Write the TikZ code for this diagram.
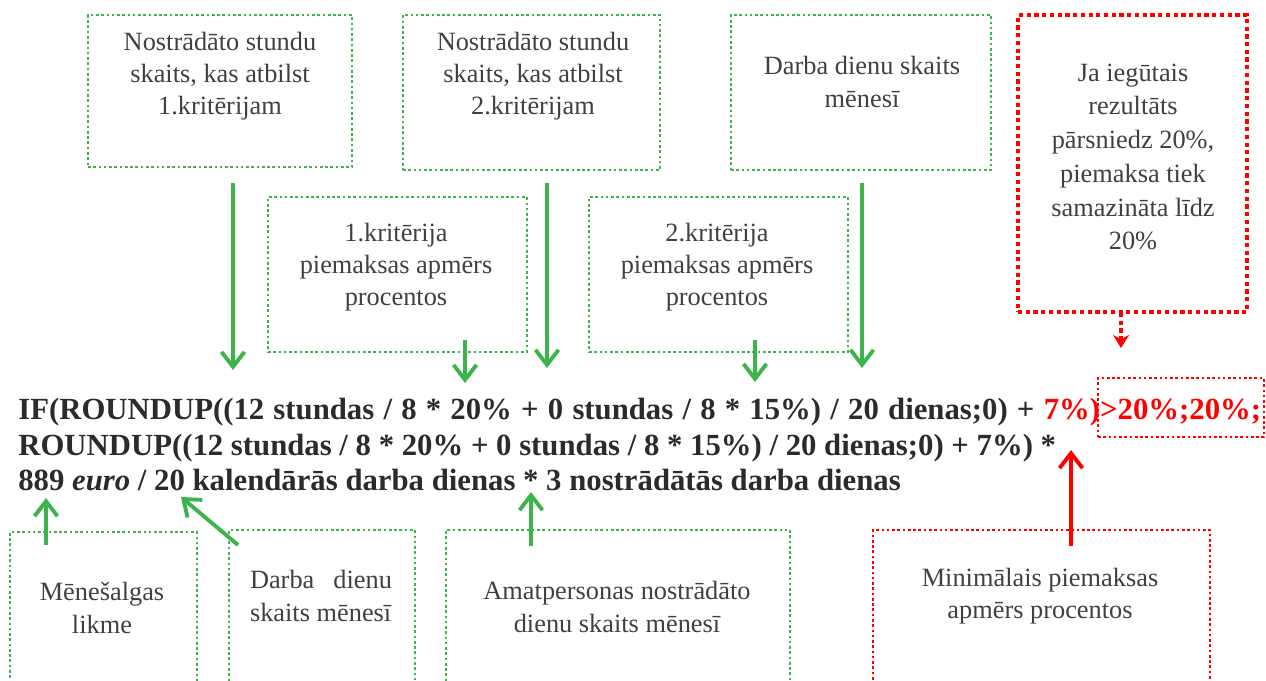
\documentclass[tikz,border=0pt]{standalone}
\usepackage{fontspec}
\setmainfont{Liberation Serif}
\usetikzlibrary{arrows.meta,fit,positioning}
\definecolor{grn}{HTML}{3BB44A}
\definecolor{txtgray}{HTML}{404040}
\definecolor{frmgray}{HTML}{2B2B2B}
\tikzset{
	gbox/.style={draw=grn, line width=1.5pt, dash pattern=on 1.5pt off 1.5pt, inner sep=0pt},
	rbox/.style={draw=red, line width=1.5pt, dash pattern=on 1.5pt off 1.5pt, inner sep=0pt},
	rboxthick/.style={draw=red, line width=2.4pt, dash pattern=on 2.4pt off 2pt, inner sep=0pt},
	btext/.style={text=txtgray, font=\fontsize{15}{18.4}\selectfont, align=center, inner sep=0pt},
	frm/.style={text=frmgray, font=\fontsize{17.5}{20}\selectfont\bfseries, anchor=base west, inner sep=0pt},
	garrow/.style={draw=grn, line width=2.2pt, -{Straight Barb[length=3mm,width=4.6mm]}},
	rarrow/.style={draw=red, line width=2.2pt, -{Straight Barb[length=3mm,width=4.6mm]}},
}

\begin{document}
\begin{tikzpicture}[x=0.02cm, y=-0.02cm]
			\clip (0,0) rectangle (1266,680);
			
			% upper boxes
			\node[gbox, fit={(88,15) (352,167)}] (hours1) {};
			\node[gbox, fit={(403,15) (660,170)}] (hours2) {};
			\node[gbox, fit={(731,15) (991,170)}] (days) {};
			\node[rboxthick, fit={(1018,15) (1247,312)}] (limit) {};
			\node[gbox, fit={(268,197) (527,352)}] (pct1) {};
			\node[gbox, fit={(589,197) (848,352)}] (pct2) {};
			
			\node[btext] (hours1txt) at (220,76) {Nostrādāto stundu\\skaits, kas atbilst\\1.kritērijam};
			\node[btext] (hours2txt) at (533,76) {Nostrādāto stundu\\skaits, kas atbilst\\2.kritērijam};
			\node[btext] (daystxt) at (862,82) {Darba dienu skaits\\mēnesī};
			\node[btext, font=\fontsize{15}{19.2}\selectfont] (limittxt) at (1133,157) {Ja iegūtais\\rezultāts\\pārsniedz 20\%,\\piemaksa tiek\\samazināta līdz\\20\%};
			\node[btext] (pct1txt) at (396,267) {1.kritērija\\piemaksas apmērs\\procentos};
			\node[btext] (pct2txt) at (717,267) {2.kritērija\\piemaksas apmērs\\procentos};
			
			% formula
			\node[frm] (line1) at (18,419) {\makebox[24.86cm][s]{IF(ROUNDUP((12 stundas / 8 * 20\% + 0 stundas / 8 * 15\%) / 20 dienas;0) + \textcolor{red}{7\%)>20\%;20\%;}}};
			\node[frm] (line2) at (18,455) {ROUNDUP((12 stundas / 8 * 20\% + 0 stundas / 8 * 15\%) / 20 dienas;0) + 7\%) *};
			\node[frm] (line3) at (18,490) {889 \textit{euro} / 20 kalendārās darba dienas * 3 nostrādātās darba dienas};
			\node[rbox, fit={(1098,378) (1264,437)}] (cap) {};
			
			% lower boxes
			\node[gbox, fit={(10,532) (197,700)}] (salary) {};
			\node[gbox, fit={(229,530) (415,700)}] (caldays) {};
			\node[gbox, fit={(446,530) (790,700)}] (workdays) {};
			\node[rbox, fit={(873,530) (1210,700)}] (minpct) {};
			
			\node[btext] (salarytxt) at (102,608) {Mēnešalgas\\likme};
			\node[btext, align=left] (caldaystxt) at (321,596) {\makebox[2.84cm][s]{Darba dienu}\\skaits mēnesī};
			\node[btext] (workdaystxt) at (617,607) {Amatpersonas nostrādāto\\dienu skaits mēnesī};
			\node[btext] (minpcttxt) at (1040,596) {Minimālais piemaksas\\apmērs procentos};
			
			% arrows
			\foreach \n/\sx/\sy/\ex/\ey in {a/233/183/233/370, b/465/340/465/383, c/547/183/547/368, d/755/340/755/382, e/862/183/862/368, f/46/545/46/498, g/238/545/181/497, h/531/546/531/492}
			{
				\coordinate (from\n) at (\sx,\sy);
				\coordinate (to\n) at (\ex,\ey);
				\draw[garrow] (from\n) -- (to\n);
			}
			\coordinate (fromr) at (1071,546);
			\coordinate (tor) at (1071,450);
			\draw[rarrow] (fromr) -- (tor);
			
			\coordinate (fromcap) at (1121,313);
			\coordinate (tocap) at (1121,348);
			\draw[draw=red, line width=2.4pt, dash pattern=on 2.4pt off 2pt, -{Stealth[length=2.6mm,width=3.2mm]}] (fromcap) -- (tocap);
		\end{tikzpicture}
\end{document}
